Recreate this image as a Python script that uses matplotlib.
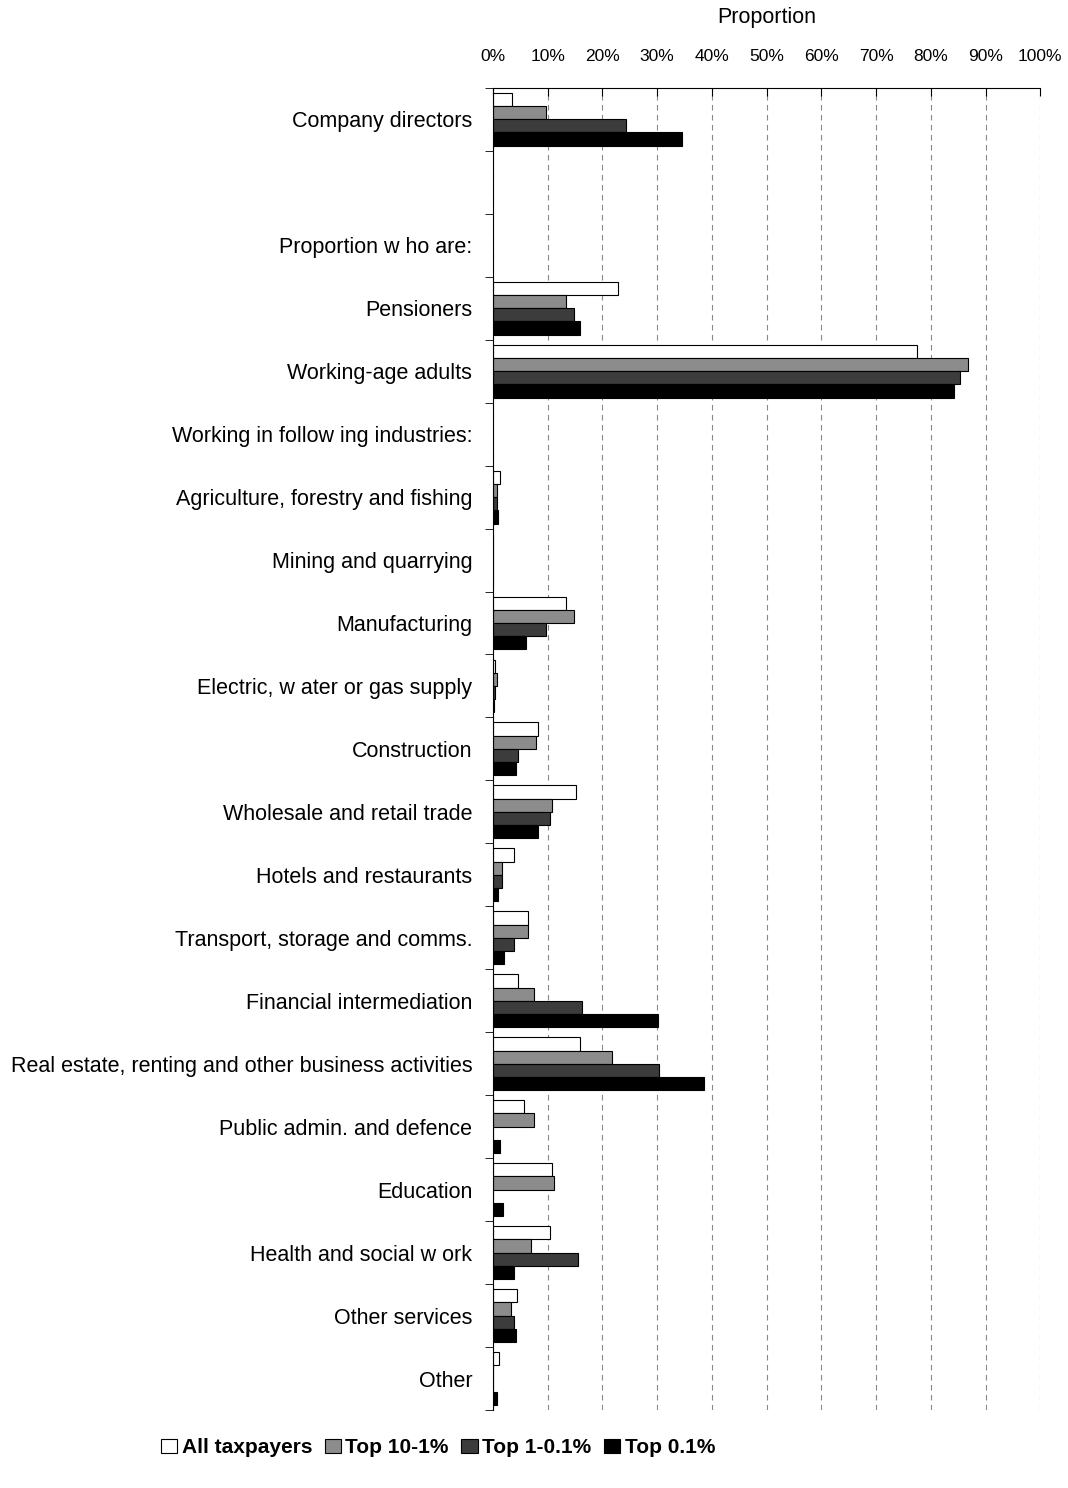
import matplotlib.pyplot as plt
import numpy as np
from matplotlib.ticker import FixedLocator, PercentFormatter

plt.rcParams['font.family'] = ['Liberation Sans', 'DejaVu Sans']

categories = ["Company directors", "", "Proportion w ho are:", "Pensioners", "Working-age adults",
              "Working in follow ing industries:", "Agriculture, forestry and fishing",
              "Mining and quarrying", "Manufacturing", "Electric, w ater or gas supply",
              "Construction", "Wholesale and retail trade", "Hotels and restaurants",
              "Transport, storage and comms.", "Financial intermediation",
              "Real estate, renting and other business activities", "Public admin. and defence",
              "Education", "Health and social w ork", "Other services", "Other"]
nan = np.nan
all_taxpayers = [3.5, nan, nan, 22.8, 77.4, nan, 1.2, 0, 13.3, 0.3, 8.2, 15.2, 3.8, 6.4, 4.6, 15.9, 5.6, 10.8, 10.4, 4.4, 1.1]
top_10_1 = [9.7, nan, nan, 13.3, 86.8, nan, 0.7, 0, 14.8, 0.8, 7.8, 10.8, 1.6, 6.4, 7.5, 21.8, 7.5, 11.2, 7.0, 3.3, 0]
top_1_01 = [24.3, nan, nan, 14.8, 85.4, nan, 0.8, 0, 9.7, 0.3, 4.6, 10.4, 1.6, 3.8, 16.3, 30.4, 0, 0, 15.5, 3.8, 0]
top_01 = [34.6, nan, nan, 15.9, 84.3, nan, 0.9, 0, 6.0, 0.2, 4.2, 8.2, 0.9, 2.0, 30.2, 38.6, 1.2, 1.8, 3.9, 4.2, 0.8]

series = [("All taxpayers", all_taxpayers, "white"),
          ("Top 10-1%", top_10_1, "#8c8c8c"),
          ("Top 1-0.1%", top_1_01, "#3c3c3c"),
          ("Top 0.1%", top_01, "black")]

fig = plt.figure(figsize=(10.68, 14.88), dpi=100)
ax = fig.add_axes([0.4616, 0.0524, 0.974 - 0.4616, 0.941 - 0.0524])

y = np.arange(len(categories))
h = 0.21
for i, (name, vals, col) in enumerate(series):
    ax.barh(y + (i - 1.5) * h, vals, height=h, color=col, edgecolor="black", linewidth=0.8, label=name)

ax.set_xlim(0, 100)
ax.set_ylim(len(categories) - 0.5, -0.5)
ax.set_yticks(y)
ax.set_yticklabels(categories, fontsize=15.5)
ax.tick_params(axis='y', which='major', length=0, pad=15)
ax.yaxis.set_minor_locator(FixedLocator(np.arange(-0.5, len(categories), 1)))
ax.tick_params(axis='y', which='minor', length=6, direction='out')
ax.xaxis.tick_top()
ax.xaxis.set_label_position('top')
ax.set_xticks(np.arange(0, 101, 10))
ax.xaxis.set_major_formatter(PercentFormatter(decimals=0))
ax.tick_params(axis='x', labelsize=12.5, length=6, direction='in', pad=17)
ax.set_xlabel("Proportion", fontsize=15.5, labelpad=19)
ax.grid(axis='x', linestyle=(0, (5, 4)), color='#888888', linewidth=0.8)
ax.set_axisbelow(True)
for s in ['right', 'bottom']:
    ax.spines[s].set_visible(False)

fig.legend(loc='center', bbox_to_anchor=(0.41, 0.027), ncol=4, frameon=False,
           prop={'weight': 'bold', 'size': 15}, handlelength=0.8, handletextpad=0.2,
           columnspacing=0.6)

fig.savefig("out.png")
